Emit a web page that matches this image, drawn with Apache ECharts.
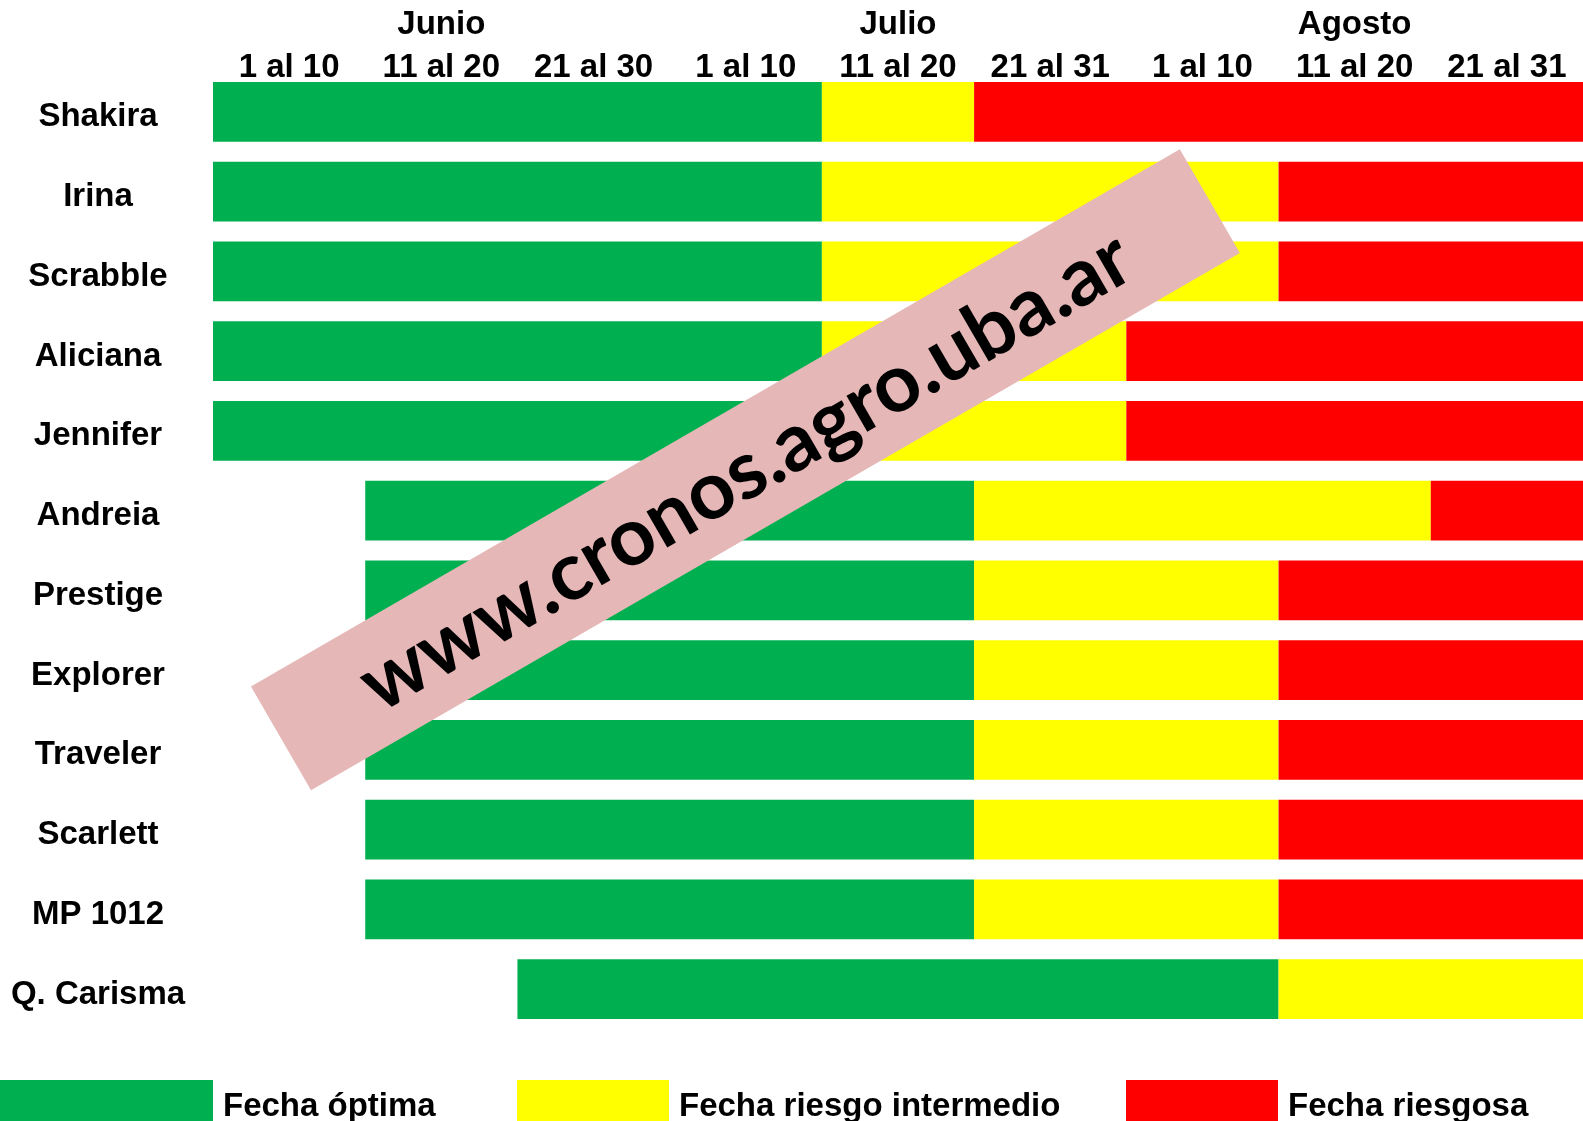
<!DOCTYPE html>
<html>
<head>
<meta charset="utf-8">
<title>Fechas de siembra</title>
<script src="https://cdn.jsdelivr.net/npm/echarts@6/dist/echarts.min.js"></script>
<style>
  html, body { margin: 0; padding: 0; background: #fff; }
  #chart { width: 1583px; height: 1121px; }
</style>
</head>
<body>
<div id="chart"></div>
<script>
// varieties, top to bottom
const varieties = ['Shakira', 'Irina', 'Scrabble', 'Aliciana', 'Jennifer', 'Andreia',
  'Prestige', 'Explorer', 'Traveler', 'Scarlett', 'MP 1012', 'Q. Carisma']

// decade labels and months (month name over the middle decade)
const decades = ['1 al 10', '11 al 20', '21 al 30', '1 al 10', '11 al 20', '21 al 31', '1 al 10', '11 al 20', '21 al 31']
const months = ['', 'Junio', '', '', 'Julio', '', '', 'Agosto', '']

// positions counted in decades from 1 June
const greenFrom = [0, 0, 0, 0, 0, 1, 1, 1, 1, 1, 1, 2]
const yellowFrom = [4, 4, 4, 4, 4, 5, 5, 5, 5, 5, 5, 7]
const redFrom = [5, 7, 7, 6, 6, 8, 7, 7, 7, 7, 7, 9]
const periodEnd = 9

const seriesNames = ['Fecha óptima', 'Fecha riesgo intermedio', 'Fecha riesgosa']
const colors = ['#00b050', '#ffff00', '#ff0000']

const font = '"Liberation Sans", Arial, sans-serif'

const chart = echarts.init(document.getElementById('chart'))

const greenLen = greenFrom.map((v, i) => yellowFrom[i] - v)
const yellowLen = yellowFrom.map((v, i) => redFrom[i] - v)
const redLen = redFrom.map(v => periodEnd - v)

const barSeries = (name, data, color) => ({
  name: name,
  type: 'bar',
  stack: 'fechas',
  barWidth: '75%',
  itemStyle: { color: color },
  data: data
})

const labelStyle = {
  fontFamily: font,
  fontWeight: 'bold',
  fontSize: 33,
  color: '#000'
}

const topAxis = (data, margin) => ({
  type: 'category',
  position: 'top',
  data: data,
  axisLine: { show: false },
  axisTick: { show: false },
  axisLabel: Object.assign({ margin: margin, verticalAlign: 'middle', interval: 0 }, labelStyle)
})

const legendItem = (name, left, width) => ({
  data: [name],
  left: left,
  top: 1080,
  padding: 0,
  itemGap: 0,
  itemWidth: width,
  itemHeight: 54,
  icon: 'rect',
  selectedMode: false,
  textStyle: Object.assign({ padding: [0, 0, 0, 5] }, labelStyle)
})

const option = {
  animation: false,
  grid: { left: 213, right: 0, top: 72, bottom: 92, outerBoundsMode: 'none' },
  xAxis: [
    { type: 'value', min: 0, max: periodEnd, show: false },
    topAxis(decades, 4.5),
    topAxis(months, 47)
  ],
  yAxis: {
    type: 'category',
    inverse: true,
    data: varieties,
    axisLine: { show: false },
    axisTick: { show: false },
    axisLabel: Object.assign({
      margin: 115,
      align: 'center',
      verticalAlign: 'top',
      lineHeight: 11
    }, labelStyle)
  },
  legend: [
    legendItem(seriesNames[0], 0, 213),
    legendItem(seriesNames[1], 517, 152),
    legendItem(seriesNames[2], 1126, 152)
  ],
  series: [
    {
      name: 'base',
      type: 'bar',
      stack: 'fechas',
      barWidth: '75%',
      silent: true,
      itemStyle: { color: 'transparent' },
      data: greenFrom
    },
    barSeries(seriesNames[0], greenLen, colors[0]),
    barSeries(seriesNames[1], yellowLen, colors[1]),
    barSeries(seriesNames[2], redLen, colors[2])
  ],
  graphic: [
    {
      type: 'group',
      x: 745,
      y: 470,
      rotation: 30.04 * Math.PI / 180,
      children: [
        {
          type: 'rect',
          z: 100,
          shape: { x: -536, y: -60, width: 1073, height: 120 },
          style: { fill: '#e5b8b7' }
        },
        {
          type: 'text',
          z: 101,
          x: 0,
          y: 2,
          style: {
            text: 'www.cronos.agro.uba.ar',
            font: 'bold 81px Lato, "Open Sans", sans-serif',
            fill: '#000',
            align: 'center',
            verticalAlign: 'middle'
          }
        }
      ]
    }
  ]
}

chart.setOption(option)
</script>
</body>
</html>
